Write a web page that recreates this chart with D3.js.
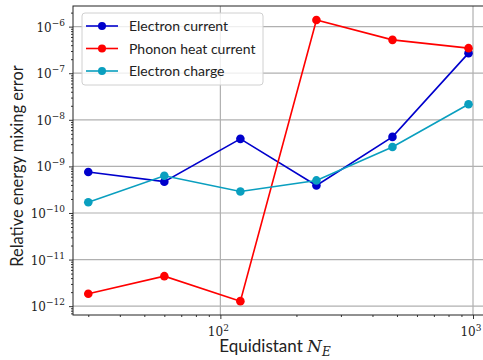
<!DOCTYPE html>
<html>
<head>
<meta charset="utf-8">
<script src="https://cdn.jsdelivr.net/npm/d3@7"></script>
<style>
  body { margin: 0; background: #fff; }
  svg { display: block; }
</style>
</head>
<body>
<div id="chart"></div>
<script>
const width = 483;
const height = 360;

// grid sizes along x
const nE = [30, 60, 120, 240, 480, 960];

// relative energy mixing error per series
const electronCurrent = [7.6e-10, 4.7e-10, 3.9e-9, 3.9e-10, 4.3e-9, 2.7e-7];
const phononHeat = [1.85e-12, 4.4e-12, 1.28e-12, 1.39e-6, 5.2e-7, 3.45e-7];
const electronCharge = [1.7e-10, 6.3e-10, 2.9e-10, 5.0e-10, 2.6e-9, 2.15e-8];

const seriesNames = ["Electron current", "Phonon heat current", "Electron charge"];
const seriesColors = ["#0000cc", "#ff0000", "#0a9fbf"];
const seriesValues = [electronCurrent, phononHeat, electronCharge];

const xMajor = [100, 1000];
const xMajorExp = ["2", "3"];
const yMajorExp = [-12, -11, -10, -9, -8, -7, -6];

// plot extends past the right edge of the picture (cropped)
const x = d3.scaleLog()
	.domain([26.1, 1130])
	.range([73, 473 + Math.log10(1.13) * 252.7]);

const y = d3.scaleLog()
	.domain([Math.pow(10, -12.19), Math.pow(10, -5.557)])
	.range([315, 6]);

const svg = d3.select("#chart").append("svg")
	.attr("width", width)
	.attr("height", height);

const plotLeft = x.range()[0], plotRight = x.range()[1];
const plotTop = y.range()[1], plotBottom = y.range()[0];

// grid
const grid = svg.append("g").attr("stroke", "#b0b0b0").attr("stroke-width", 1.2);
xMajor.forEach(v => {
	grid.append("line")
		.attr("x1", x(v)).attr("x2", x(v))
		.attr("y1", plotTop).attr("y2", plotBottom);
});
yMajorExp.forEach(e => {
	grid.append("line")
		.attr("x1", plotLeft).attr("x2", plotRight)
		.attr("y1", y(Math.pow(10, e))).attr("y2", y(Math.pow(10, e)));
});

// axes
const xAxis = d3.axisBottom(x)
	.tickValues(x.ticks())
	.tickSize(2)
	.tickFormat("");
const xg = svg.append("g")
	.attr("transform", `translate(0,${plotBottom})`)
	.call(xAxis);
xg.select(".domain").remove();
xg.selectAll(".tick line")
	.attr("y2", d => xMajor.includes(d) ? 4 : 2)
	.attr("stroke", "#000").attr("stroke-width", 0.8);

const yAxis = d3.axisLeft(y)
	.tickValues(y.ticks())
	.tickSize(2)
	.tickFormat("");
const yg = svg.append("g")
	.attr("transform", `translate(${plotLeft},0)`)
	.call(yAxis);
yg.select(".domain").remove();
yg.selectAll(".tick line")
	.attr("x2", d => {
		const l = Math.log10(d);
		return Math.abs(l - Math.round(l)) < 1e-6 ? -4 : -2;
	})
	.attr("stroke", "#000").attr("stroke-width", 0.8);

// tick labels 10^n
xMajor.forEach((v, i) => {
	const t = svg.append("text")
		.attr("x", x(v) - 2)
		.attr("y", plotBottom + 21)
		.attr("text-anchor", "middle")
		.attr("font-family", "DejaVu Serif")
		.attr("font-size", 12)
		.attr("fill", "#222");
	t.append("tspan").text("10");
	t.append("tspan").attr("dy", -5).attr("font-size", 9).text(xMajorExp[i]);
});
yMajorExp.forEach(e => {
	const t = svg.append("text")
		.attr("x", plotLeft - 8)
		.attr("y", y(Math.pow(10, e)) + 5)
		.attr("text-anchor", "end")
		.attr("font-family", "DejaVu Serif")
		.attr("font-size", 12)
		.attr("fill", "#222");
	t.append("tspan").text("10");
	t.append("tspan").attr("dy", -6).attr("font-size", 9).text("\u2212" + Math.abs(e));
});

// spines
svg.append("rect")
	.attr("x", plotLeft).attr("y", plotTop)
	.attr("width", plotRight - plotLeft)
	.attr("height", plotBottom - plotTop)
	.attr("fill", "none")
	.attr("stroke", "#222")
	.attr("stroke-width", 1);

// series
const line = d3.line()
	.x((d, i) => x(nE[i]))
	.y(d => y(d));

seriesValues.forEach((vals, k) => {
	const g = svg.append("g");
	g.append("path")
		.datum(vals)
		.attr("d", line)
		.attr("fill", "none")
		.attr("stroke", seriesColors[k])
		.attr("stroke-width", 1.6);
	g.selectAll("circle")
		.data(vals)
		.enter().append("circle")
		.attr("cx", (d, i) => x(nE[i]))
		.attr("cy", d => y(d))
		.attr("r", 4.3)
		.attr("fill", seriesColors[k]);
});

// legend
const lg = svg.append("g").attr("transform", "translate(82,13)");
lg.append("rect")
	.attr("width", 181).attr("height", 72)
	.attr("rx", 3)
	.attr("fill", "#fff").attr("fill-opacity", 0.8)
	.attr("stroke", "#d0d0d0").attr("stroke-width", 1);
seriesNames.forEach((name, k) => {
	const cy = 13 + k * 22.5;
	lg.append("line")
		.attr("x1", 4).attr("x2", 36)
		.attr("y1", cy).attr("y2", cy)
		.attr("stroke", seriesColors[k]).attr("stroke-width", 1.6);
	lg.append("circle")
		.attr("cx", 20).attr("cy", cy).attr("r", 4)
		.attr("fill", seriesColors[k]);
	lg.append("text")
		.attr("x", 47).attr("y", cy + 5)
		.attr("font-family", "Lato")
		.attr("font-size", 14)
		.attr("fill", "#222")
		.text(name);
});

// axis titles
svg.append("text")
	.attr("transform", "translate(23,166) rotate(-90)")
	.attr("text-anchor", "middle")
	.attr("font-family", "Lato")
	.attr("font-size", 16.4)
	.attr("fill", "#222")
	.text("Relative energy mixing error");

const xt = svg.append("text")
	.attr("x", 275)
	.attr("y", 352)
	.attr("text-anchor", "middle")
	.attr("font-family", "Lato")
	.attr("font-size", 17)
	.attr("fill", "#222");
xt.append("tspan").text("Equidistant ");
xt.append("tspan").attr("font-family", "DejaVu Serif").attr("font-style", "italic").text("N");
xt.append("tspan").attr("font-family", "DejaVu Serif").attr("font-style", "italic")
	.attr("font-size", 12).attr("dy", 4).text("E");
</script>
</body>
</html>
